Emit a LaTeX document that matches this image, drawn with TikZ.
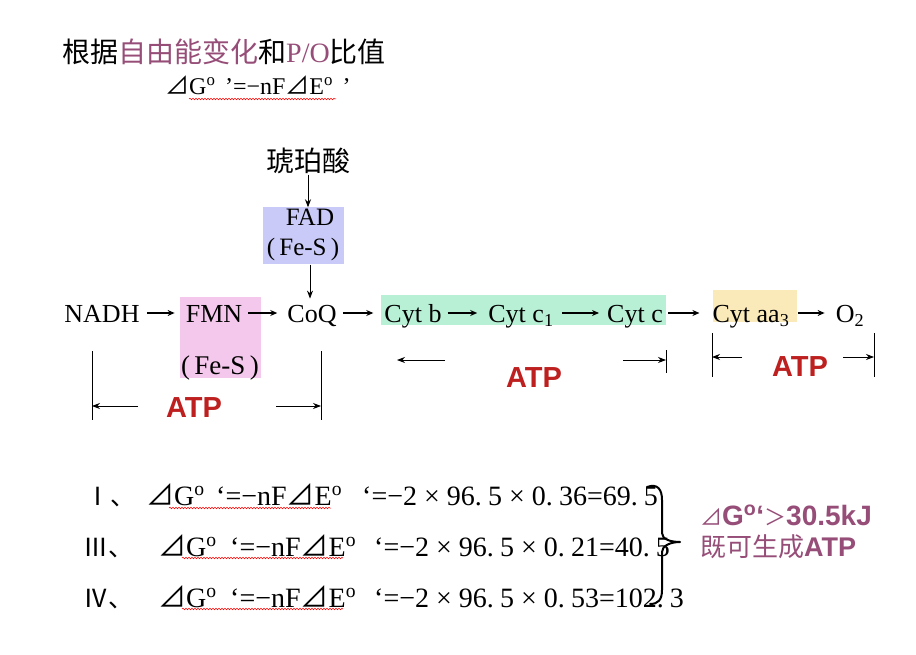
\documentclass[tikz,border=0pt]{standalone}
\usepackage{fontspec}
\setmainfont{Liberation Serif}
\newfontfamily\cjk{Noto Sans CJK SC}
\newfontfamily\arial{Liberation Sans}
\usetikzlibrary{arrows.meta,decorations.pathmorphing}
\definecolor{pur}{RGB}{150,78,120}
\definecolor{atpred}{RGB}{190,32,32}
\definecolor{fadbg}{RGB}{202,202,248}
\definecolor{fmnbg}{RGB}{244,200,236}
\definecolor{cytbg}{RGB}{184,240,214}
\definecolor{aabg}{RGB}{250,234,186}
\newcommand{\fsz}[1]{\fontsize{#1}{#1}\selectfont}
\newcommand{\sopo}{\textsuperscript{o}}
\newcommand{\tm}{\hspace{0.25em}×\hspace{0.25em}}
\newcommand{\pd}{.\hspace{0.22em}}
\begin{document}
\begin{tikzpicture}[x=1pt,y=-1pt,
  lbl/.style={inner sep=0pt, anchor=base, font=\fsz{26}},
  bgbox/.style={inner sep=0pt, draw=none},
  flow/.style={-{Stealth[length=7pt,width=6pt]}, line width=1.4pt},
  vflow/.style={-{Stealth[length=8pt,width=6pt]}, line width=0.9pt},
  dim/.style={-{Stealth[length=8pt,width=6pt]}, line width=0.8pt},
  dline/.style={line width=0.8pt},
  atp/.style={inner sep=0pt, font=\arial\bfseries\fsz{29}, text=atpred},
  eq/.style={inner sep=0pt, anchor=base west, font=\fsz{28}},
  num/.style={inner sep=0pt, anchor=base east, font=\fsz{25}\cjk},
  wavy/.style={red, line width=0.5pt, decorate, decoration={snake, amplitude=0.8pt, segment length=3pt}},
  note/.style={inner sep=0pt, anchor=base west, text=pur}
]
\fill[white] (0,0) rectangle (916,655);
\useasboundingbox (0,0) rectangle (916,655);

% title
\node[inner sep=0pt, anchor=base west] (title) at (62,63)
  {\fsz{28}\cjk 根据\textcolor{pur}{自由能变化}和\textcolor{pur}{\rmfamily P/O}比值};
\node[inner sep=0pt, anchor=base west] (form) at (165,95)
  {\fsz{24}{\cjk ⊿}G\sopo\hspace{0.4em}’=−nF{\cjk ⊿}E\sopo\hspace{0.4em}’};
\draw[wavy] (189,99) -- (336,99);

% background boxes
\node[bgbox, fill=fadbg, minimum width=81pt, minimum height=57pt] (fadbox) at (303.5,236) {};
\node[bgbox, fill=fmnbg, minimum width=81pt, minimum height=81pt] (fmnbox) at (220.5,337.5) {};
\node[bgbox, fill=cytbg, minimum width=285pt, minimum height=30pt] (cytbox) at (523.5,310) {};
\node[bgbox, fill=aabg, minimum width=84pt, minimum height=32pt] (aabox) at (755,306) {};

% top branch
\node[inner sep=0pt, anchor=base] (succ) at (308,172) {\fsz{28}\cjk 琥珀酸};
\node[lbl, font=\fsz{25}] (fad) at (310,226) {FAD};
\node[lbl, font=\fsz{25}] (fadfes) at (303,256) {(\,Fe-S\,)};

% main row
\node[lbl] (nadh) at (102,323) {NADH};
\node[lbl] (fmn) at (214,323) {FMN};
\node[lbl, font=\fsz{27}] (fmnfes) at (220,374) {(\,Fe-S\,)};
\node[lbl] (coq) at (312,323) {CoQ};
\node[lbl] (cytb) at (413,323) {Cyt b};
\node[lbl] (cytc1) at (521,323) {Cyt c\textsubscript{1}};
\node[lbl] (cytc) at (635,323) {Cyt c};
\node[lbl] (cytaa) at (751,323) {Cyt aa\textsubscript{3}};
\node[lbl] (o2) at (850,323) {O\textsubscript{2}};

\draw[vflow] (succ.south) -- (succ.south |- fadbox.north);
\draw[vflow] ([xshift=-2pt]coq.north |- fadbox.south) -- ([xshift=-2pt,yshift=7pt]coq.north);

\draw[flow] ([xshift=7pt]nadh.east |- 0,313) -- ([xshift=-11pt]fmn.west |- 0,313);
\draw[flow] ([xshift=6pt]fmn.east |- 0,313) -- ([xshift=-10pt]coq.west |- 0,313);
\draw[flow] ([xshift=6pt]coq.east |- 0,313) -- ([xshift=-11pt]cytb.west |- 0,313);
\draw[flow] ([xshift=6pt]cytb.east |- 0,313) -- ([xshift=-11pt]cytc1.west |- 0,313);
\draw[flow] ([xshift=8pt]cytc1.east |- 0,313) -- ([xshift=-8pt]cytc.west |- 0,313);
\draw[flow] ([xshift=5pt]cytc.east |- 0,313) -- ([xshift=-13pt]cytaa.west |- 0,313);
\draw[flow] ([xshift=8pt]cytaa.east |- 0,313) -- ([xshift=-11pt]o2.west |- 0,313);

% dimension 1
\coordinate (d1a) at (92,351); \coordinate (d1b) at (92,420);
\coordinate (d1c) at (321,351); \coordinate (d1d) at (321,420);
\draw[dline] (d1a) -- (d1b);
\draw[dline] (d1c) -- (d1d);
\coordinate (d1l) at (138,406); \coordinate (d1r) at (276,406);
\draw[dim] (d1l) -- (d1a |- d1l);
\draw[dim] (d1r) -- (d1c |- d1r);
\node[atp] (atp1) at (194,408) {ATP};

% dimension 2
\coordinate (d2a) at (666,350); \coordinate (d2b) at (666,373);
\draw[dline] (d2a) -- (d2b);
\coordinate (d2l) at (445,360); \coordinate (d2le) at (397,360);
\coordinate (d2r) at (623,360);
\draw[dim] (d2l) -- (d2le);
\draw[dim] (d2r) -- (d2a |- d2r);
\node[atp] (atp2) at (534,378) {ATP};

% dimension 3
\coordinate (d3a) at (712,333); \coordinate (d3b) at (712,377);
\coordinate (d3c) at (874,333); \coordinate (d3d) at (874,377);
\draw[dline] (d3a) -- (d3b);
\draw[dline] (d3c) -- (d3d);
\coordinate (d3l) at (742,357); \coordinate (d3r) at (843,357);
\draw[dim] (d3l) -- (d3a |- d3l);
\draw[dim] (d3r) -- (d3c |- d3r);
\node[atp] (atp3) at (800,367) {ATP};

% equations
\node[num] (r1n) at (136,505) {Ⅰ、};
\node[eq] (r1a) at (146,505) {{\cjk ⊿}G\sopo};
\node[eq] (r1b) at (216,505) {‘=−nF{\cjk ⊿}E\sopo};
\node[eq] (r1c) at (362,505) {‘=−2\tm 96\pd 5\tm 0\pd 36=69\pd 5};
\draw[wavy] (169,508) -- (331,508);

\node[num] (r2n) at (134,556) {Ⅲ、};
\node[eq] (r2a) at (158,556) {{\cjk ⊿}G\sopo};
\node[eq] (r2b) at (230,556) {‘=−nF{\cjk ⊿}E\sopo};
\node[eq] (r2c) at (374,556) {‘=−2\tm 96\pd 5\tm 0\pd 21=40\pd 5};
\draw[wavy] (182,558) -- (343,558);

\node[num] (r3n) at (134,607) {Ⅳ、};
\node[eq] (r3a) at (158,607) {{\cjk ⊿}G\sopo};
\node[eq] (r3b) at (230,607) {‘=−nF{\cjk ⊿}E\sopo};
\node[eq] (r3c) at (374,607) {‘=−2\tm 96\pd 5\tm 0\pd 53=102\pd 3};
\draw[wavy] (182,609) -- (343,609);

% brace
\coordinate (brtop) at (647,487);
\coordinate (brtip) at (680,542);
\coordinate (brbot) at (650,604);
\draw[line width=2pt, line cap=round, line join=round]
  (brtop) .. controls (658,483) and (662,490) .. (662,500)
  -- (662,533) .. controls (662,539) and (670,542) .. (brtip)
  .. controls (670,542) and (662,546) .. (662,552)
  -- (662,590) .. controls (662,600) and (658,604) .. (brbot);

% conclusion
\node[note] (c1) at (700,525)
  {{\cjk\fsz{22}⊿}{\arial\bfseries\fsz{28}G\textsuperscript{o}‘}{\cjk\fsz{22}＞}{\arial\bfseries\fsz{28}30.5kJ}};
\node[note] (c2) at (700,556)
  {{\cjk\fsz{26}既可生成}{\arial\bfseries\fsz{27}ATP}};
\end{tikzpicture}
\end{document}
